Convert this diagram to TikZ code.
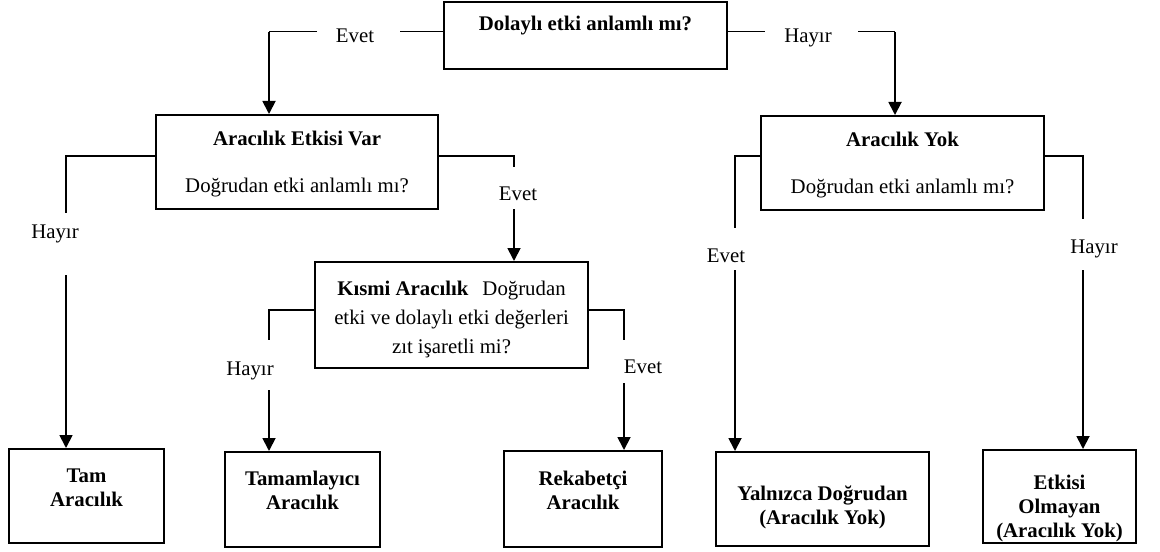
\documentclass[tikz,border=0pt]{standalone}
\usepackage{fontspec}
\setmainfont{Liberation Serif}
\usepackage{tikz}
\usetikzlibrary{arrows.meta}
\usetikzlibrary{positioning}
\usetikzlibrary{calc}
\tikzset{box/.style={rectangle,draw=black,line width=1pt,inner sep=0pt,fill=none}}
\tikzset{boxtext/.style={align=center,inner sep=0pt,anchor=north,font=\fontsize{10.4}{12}\selectfont}}
\tikzset{lbl/.style={inner sep=0pt,anchor=base,font=\fontsize{10.4}{12}\selectfont}}
\tikzset{line/.style={black,line width=0.9pt,>={Triangle[width=6.5pt,length=6.5pt]}}}
\tikzset{thinline/.style={black,line width=0.5pt}}

\begin{document}
\begin{tikzpicture}[x=0.5pt,y=-0.5pt]
  \useasboundingbox (0,0) rectangle (1160,551);

  % Boxes
  \node[box,minimum width=141.5pt,minimum height=33.5pt] (q1) at (585.5,35.5) {};
  \node[box,minimum width=141pt,minimum height=47pt] (q2) at (297,162) {};
  \node[box,minimum width=141.5pt,minimum height=47pt] (q3) at (902.5,163) {};
  \node[box,minimum width=136.5pt,minimum height=53pt] (q4) at (451.5,315) {};
  \node[box,minimum width=77.5pt,minimum height=47pt] (r1) at (86.5,496) {};
  \node[box,minimum width=77.5pt,minimum height=47.5pt] (r2) at (302.5,499.5) {};
  \node[box,minimum width=79pt,minimum height=48pt] (r3) at (583,499) {};
  \node[box,minimum width=106.5pt,minimum height=47pt] (r4) at (822.5,499) {};
  \node[box,minimum width=76.5pt,minimum height=46.5pt] (r5) at (1059.5,496.5) {};

  % Box texts
  \node[boxtext] (q1t) at ([yshift=-7.5pt]q1.north) {\textbf{Dolaylı etki anlamlı mı?}};
  \node[boxtext] (q2t) at ([yshift=-8.5pt]q2.north) {\textbf{Aracılık Etkisi Var}\\[11.5pt]Doğrudan etki anlamlı mı?};
  \node[boxtext] (q3t) at ([yshift=-8.5pt]q3.north) {\textbf{Aracılık Yok}\\[11.5pt]Doğrudan etki anlamlı mı?};
  \node[boxtext] (q4t) at ([yshift=-10pt]q4.north) {\textbf{Kısmi Aracılık}\hspace{7pt}Doğrudan\\[2.5pt]etki ve dolaylı etki değerleri\\[2.5pt]zıt işaretli mi?};
  \node[boxtext] (r1t) at ([yshift=-10pt]r1.north) {\textbf{Tam}\\\textbf{Aracılık}};
  \node[boxtext] (r2t) at ([yshift=-10pt]r2.north) {\textbf{Tamamlayıcı}\\\textbf{Aracılık}};
  \node[boxtext] (r3t) at ([yshift=-10.5pt]r3.north) {\textbf{Rekabetçi}\\\textbf{Aracılık}};
  \node[boxtext] (r4t) at ([yshift=-17pt]r4.north) {\textbf{Yalnızca Doğrudan}\\\textbf{(Aracılık Yok)}};
  \node[boxtext] (r5t) at ([yshift=-13pt]r5.north) {\textbf{Etkisi}\\\textbf{Olmayan}\\\textbf{(Aracılık Yok)}};

  % Answers
  \node[lbl] (ev1) at (355,43) {Evet};
  \node[lbl] (hy1) at (808,43) {Hayır};
  \node[lbl] (hy2) at (55,238) {Hayır};
  \node[lbl] (ev2) at (518,200) {Evet};
  \node[lbl] (hy3) at (250,375) {Hayır};
  \node[lbl] (ev3) at (643,373) {Evet};
  \node[lbl] (ev4) at (726,262) {Evet};
  \node[lbl] (hy4) at (1094,253) {Hayır};

  % Gaps round the answers
  \coordinate (ev1a) at (400,32);   \coordinate (ev1b) at (317,32);   \coordinate (ev1c) at (269,32);
  \coordinate (hy1a) at (765,32);   \coordinate (hy1b) at (858,32);   \coordinate (hy1c) at (895,32);
  \coordinate (hy2a) at (66,213);   \coordinate (hy2b) at (66,275);
  \coordinate (ev2a) at (514,167);  \coordinate (ev2b) at (514,209);
  \coordinate (hy3a) at (269,340);  \coordinate (hy3b) at (269,390);
  \coordinate (ev3a) at (624,340);  \coordinate (ev3b) at (624,383);
  \coordinate (ev4a) at (735,228);  \coordinate (ev4b) at (735,270);
  \coordinate (hy4a) at (1083,219); \coordinate (hy4b) at (1083,270);

  % Connectors
  \draw[thinline] ([yshift=1.75pt]q1.west) -- (ev1a);
  \draw[thinline] (ev1b) -- (ev1c);
  \draw[line,->] (ev1c) -- (ev1c |- q2.north);
  \draw[thinline] ([yshift=1.75pt]q1.east) -- (hy1a);
  \draw[thinline] (hy1b) -- (hy1c);
  \draw[line,->] (hy1c) -- (hy1c |- q3.north);

  \draw[line] ([yshift=3pt]q2.west) -| (hy2a);
  \draw[line,->] (hy2b) -- (hy2b |- r1.north);
  \draw[line] ([yshift=3pt]q2.east) -| (ev2a);
  \draw[line,->] (ev2b) -- (ev2b |- q4.north);

  \draw[line] ([yshift=2.5pt]q4.west) -| (hy3a);
  \draw[line,->] (hy3b) -- (hy3b |- r2.north);
  \draw[line] ([yshift=2.5pt]q4.east) -| (ev3a);
  \draw[line,->] (ev3b) -- (ev3b |- r3.north);

  \draw[line] ([yshift=3.5pt]q3.west) -| (ev4a);
  \draw[line,->] (ev4b) -- (ev4b |- r4.north);
  \draw[line] ([yshift=3.5pt]q3.east) -| (hy4a);
  \draw[line,->] (hy4b) -- (hy4b |- r5.north);
\end{tikzpicture}
\end{document}
